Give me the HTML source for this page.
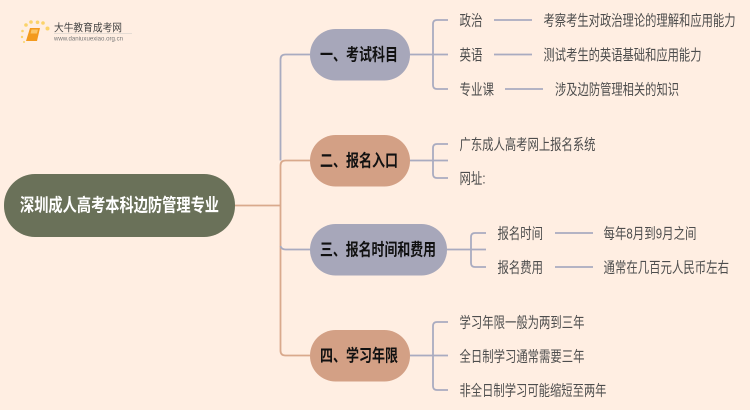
<!DOCTYPE html>
<html lang="zh">
<head>
<meta charset="utf-8">
<style>
html,body{margin:0;padding:0;width:750px;height:410px;overflow:hidden;background:#ffeee2}
svg{display:block;filter:blur(0.35px)}
text{font-family:"Liberation Sans","Noto Sans CJK SC",sans-serif}
.l{font-size:15px;fill:#4d4d4d}
.b{font-size:17px;font-weight:700;fill:#111;text-anchor:start}
.line{fill:none;stroke:#a9abc0;stroke-width:1.8}
.tan{fill:none;stroke:#d9a98c;stroke-width:1.8}
</style>
</head>
<body>
<svg width="750" height="410" viewBox="0 0 750 410" xmlns="http://www.w3.org/2000/svg">
<rect width="750" height="410" fill="#ffeee2"/>

<!-- logo -->
<g>
  <circle cx="26" cy="25" r="1.8" fill="#fbd36a"/>
  <circle cx="31" cy="22" r="1.8" fill="#fbd36a"/>
  <circle cx="37.500" cy="22.300" r="1.800" fill="#fbd36a"/>
  <circle cx="43" cy="23" r="1.800" fill="#fbd36a"/>
  <circle cx="47.500" cy="28.500" r="2" fill="#fbd36a"/>
  <circle cx="22.500" cy="31" r="1.300" fill="#fbd36a"/>
  <circle cx="22" cy="37" r="1.200" fill="#fbd36a"/>
  <circle cx="24" cy="42" r="1" fill="#fbd36a"/>
  <path d="M30 28h10l-3 13h-11z" fill="#f39a1e"/>
  <path d="M31.500 29.500h6.500l-1 4h-6.500z" fill="#fbc567"/>
  <text x="54" y="31" textLength="68" lengthAdjust="spacingAndGlyphs" style="font-size:10.500px;fill:#444">大牛教育成考网</text>
  <rect x="54" y="33" width="78" height="1" fill="#e5dcd4"/>
  <text x="54" y="40.500" textLength="69" lengthAdjust="spacingAndGlyphs" style="font-size:6.600px;fill:#777">www.daniuxuexiao.org.cn</text>
</g>

<!-- main connectors -->
<path class="tan" d="M235 205.500H280.500"/>
<path class="line" d="M310 54.500H285.500Q280.500 54.500 280.500 59.500V160.500"/>
<path class="tan" d="M310 160.500H285.500Q280.500 160.500 280.500 165.500V350.500Q280.500 355.500 285.500 355.500H310"/>
<path class="line" d="M310 249.500H285.500Q281.500 249.500 280.500 246"/>

<!-- sub connectors -->
<path class="line" d="M409 54.500H448M448 20H437Q433 20 433 24V85Q433 89 437 89H448"/>
<path class="line" d="M409 160.500H448M448 144H437Q433 144 433 148V174Q433 178 437 178H448"/>
<path class="line" d="M447 249.500H486M486 233H475Q471 233 471 237V263Q471 267 475 267H486"/>
<path class="line" d="M409 355.500H448M448 322H437Q433 322 433 326V386Q433 390 437 390H448"/>

<!-- leaf connectors -->
<path class="line" d="M494 20H532M494 54.500H532M505 89H543M555 233H593M555 267H593"/>

<!-- nodes -->
<rect x="4" y="174" width="231" height="63" rx="31" fill="#6a7159"/>
<rect x="310" y="29" width="100" height="51.500" rx="25.500" fill="#a7a7ba"/>
<rect x="310" y="135" width="100" height="51.500" rx="25.500" fill="#d3a085"/>
<rect x="310" y="224" width="137" height="51.500" rx="25.500" fill="#a7a7ba"/>
<rect x="310" y="330" width="100" height="51.500" rx="25.500" fill="#d3a085"/>

<!-- node text -->
<text x="20" y="211.500" textLength="199" lengthAdjust="spacingAndGlyphs" style="font-size:18px;font-weight:700;fill:#fff">深圳成人高考本科边防管理专业</text>
<text class="b" x="320" y="60.500" textLength="78" lengthAdjust="spacingAndGlyphs">一、考试科目</text>
<text class="b" x="320" y="166.500" textLength="78" lengthAdjust="spacingAndGlyphs">二、报名入口</text>
<text class="b" x="320" y="255.500" textLength="116" lengthAdjust="spacingAndGlyphs">三、报名时间和费用</text>
<text class="b" x="320" y="361.500" textLength="78" lengthAdjust="spacingAndGlyphs">四、学习年限</text>

<!-- leaf text -->
<text class="l" x="459.500" y="25.500" textLength="23" lengthAdjust="spacingAndGlyphs">政治</text>
<text class="l" x="459.500" y="60" textLength="23" lengthAdjust="spacingAndGlyphs">英语</text>
<text class="l" x="459.500" y="94.500" textLength="34.500" lengthAdjust="spacingAndGlyphs">专业课</text>
<text class="l" x="543.500" y="25.500" textLength="192" lengthAdjust="spacingAndGlyphs">考察考生对政治理论的理解和应用能力</text>
<text class="l" x="543.500" y="60" textLength="158" lengthAdjust="spacingAndGlyphs">测试考生的英语基础和应用能力</text>
<text class="l" x="555" y="94.500" textLength="124" lengthAdjust="spacingAndGlyphs">涉及边防管理相关的知识</text>
<text class="l" x="459.500" y="149.500" textLength="136" lengthAdjust="spacingAndGlyphs">广东成人高考网上报名系统</text>
<text class="l" x="459.500" y="183.500" textLength="26" lengthAdjust="spacingAndGlyphs">网址:</text>
<text class="l" x="497.500" y="238.500" textLength="45.500" lengthAdjust="spacingAndGlyphs">报名时间</text>
<text class="l" x="497.500" y="272.500" textLength="45.500" lengthAdjust="spacingAndGlyphs">报名费用</text>
<text class="l" x="603.500" y="238.500" textLength="93" lengthAdjust="spacingAndGlyphs">每年8月到9月之间</text>
<text class="l" x="603.500" y="272.500" textLength="125.500" lengthAdjust="spacingAndGlyphs">通常在几百元人民币左右</text>
<text class="l" x="459.500" y="327.500" textLength="125" lengthAdjust="spacingAndGlyphs">学习年限一般为两到三年</text>
<text class="l" x="459.500" y="361.500" textLength="125" lengthAdjust="spacingAndGlyphs">全日制学习通常需要三年</text>
<text class="l" x="459.500" y="395.500" textLength="147" lengthAdjust="spacingAndGlyphs">非全日制学习可能缩短至两年</text>
</svg>
</body>
</html>
